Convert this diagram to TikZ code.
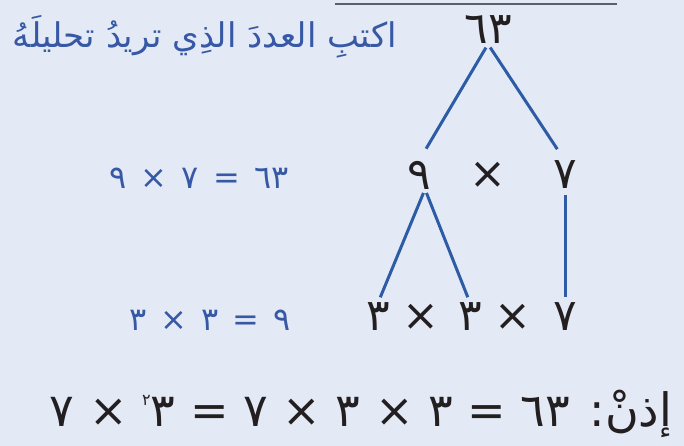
\documentclass[tikz,border=0pt]{standalone}
\usepackage{fontspec}
\newfontfamily\arfont[Script=Arabic]{DejaVu Sans}
\TeXXeTstate=1
\definecolor{bg}{RGB}{227,234,246}
\definecolor{ink}{RGB}{35,31,32}
\definecolor{bluet}{RGB}{55,88,165}
\definecolor{bluel}{RGB}{45,92,165}
\definecolor{rule}{RGB}{90,95,105}
\begin{document}
\begin{tikzpicture}[x=1pt,y=-1pt,
  digit/.style={font=\arfont\fontsize{44}{46}\selectfont, text=ink, inner sep=0pt},
  sign/.style={font=\arfont\fontsize{44}{46}\selectfont, text=ink, inner sep=0pt},
  lbl/.style={font=\arfont\fontsize{32}{36}\selectfont, text=bluet, inner sep=0pt},
  instr/.style={font=\arfont\fontsize{34}{38}\selectfont, text=bluet, inner sep=0pt},
  concl/.style={font=\arfont\fontsize{46}{50}\selectfont, text=ink, inner sep=0pt},
  branch/.style={draw=bluel, line width=3pt}]
\fill[bg] (0,0) rectangle (684,446);
\useasboundingbox (0,0) rectangle (684,446);
\coordinate (ruleL) at (335,4);
\coordinate (ruleR) at (617,4);
\draw[rule, line width=1.5pt] (ruleL) -- (ruleR);
% top number and instruction
\node[digit] (n63) at (488,30) {\beginR ٦٣\endR};
\node[instr, anchor=east] (instr) at (397,37) {\beginR اكتبِ العددَ الذِي تريدُ تحليلَهُ\endR};
% second row
\node[digit] (n9) at (419,175) {٩};
\node[sign] (t1) at (488,175) {×};
\node[digit] (n7) at (565,175) {٧};
\node[lbl] (eq1) at (199,178) {\beginR ٦٣\hspace{4pt} = \hspace{4pt}٧\hspace{4pt} × \hspace{4pt}٩\endR};
% third row
\node[digit] (a3) at (378,317) {٣};
\node[sign] (t2) at (421,317) {×};
\node[digit] (b3) at (470,317) {٣};
\node[sign] (t3) at (513,317) {×};
\node[digit] (c7) at (565,317) {٧};
\node[lbl] (eq2) at (210,320) {\beginR ٩\hspace{4pt} = \hspace{4pt}٣\hspace{4pt} × \hspace{4pt}٣\endR};
% branches
\draw[branch, shorten <=4pt, shorten >=14pt] (n63.south) -- (n9.north);
\draw[branch, shorten <=4pt, shorten >=14pt] (n63.south) -- (n7.north);
\draw[branch, shorten <=4pt, shorten >=6pt] ([xshift=6pt]n9.south) -- (a3.north);
\draw[branch, shorten <=4pt, shorten >=6pt] ([xshift=6pt]n9.south) -- (b3.north);
\draw[branch, shorten <=6pt, shorten >=6pt] (n7.south) -- (c7.north);
% conclusion
\node[concl] (conc) at (361,414) {\beginR إذنْ: ٦٣ = ٣ × ٣ × ٧ = ٣\raisebox{0.45em}{\fontsize{16}{16}\selectfont ٢} × ٧\endR};
\end{tikzpicture}
\end{document}
